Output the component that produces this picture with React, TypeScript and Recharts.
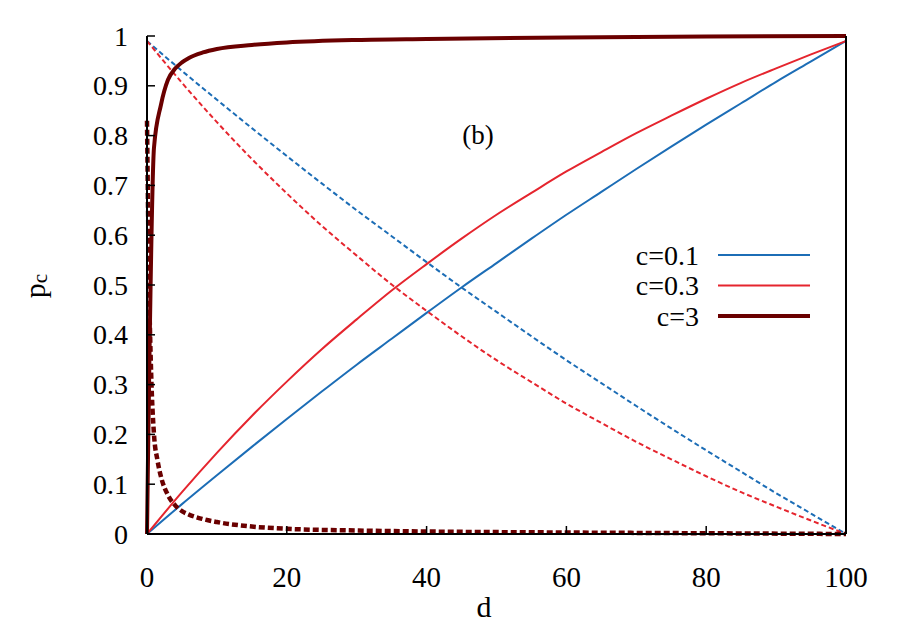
import { LineChart, Line, XAxis, YAxis, Customized } from 'recharts';

// d grid for the c=0.1 and c=0.3 curves
const dGrid = [0, 5, 10, 15, 20, 25, 30, 35, 40, 45, 50, 55, 60, 65, 70, 75, 80, 85, 90, 95, 100];
const c01Rise = [0, 0.06, 0.118, 0.175, 0.231, 0.286, 0.34, 0.392, 0.444, 0.495, 0.544, 0.593, 0.641, 0.687, 0.733, 0.778, 0.822, 0.865, 0.908, 0.949, 0.99];
const c01Fall = [0.99, 0.93, 0.872, 0.815, 0.759, 0.704, 0.65, 0.598, 0.546, 0.495, 0.446, 0.397, 0.349, 0.303, 0.257, 0.212, 0.168, 0.125, 0.082, 0.041, 0];
const c03Rise = [0, 0.084, 0.163, 0.237, 0.306, 0.371, 0.431, 0.489, 0.542, 0.593, 0.641, 0.685, 0.728, 0.767, 0.805, 0.84, 0.874, 0.906, 0.935, 0.963, 0.99];
const c03Fall = [0.99, 0.906, 0.827, 0.753, 0.684, 0.619, 0.559, 0.501, 0.448, 0.397, 0.349, 0.305, 0.262, 0.223, 0.185, 0.15, 0.116, 0.084, 0.055, 0.027, 0];

// c=3 needs a finer grid near d=0
const c3RiseD = [0, 1, 2, 3, 4, 5, 6, 8, 10, 15, 20, 30, 40, 60, 80, 100];
const c3Rise = [0, 0.776, 0.862, 0.912, 0.934, 0.947, 0.956, 0.967, 0.974, 0.982, 0.987, 0.992, 0.994, 0.997, 0.999, 1.0];
const c3FallD = [0, 0.3, 0.6, 1, 1.5, 2, 3, 4, 5, 6, 8, 10, 15, 20, 30, 40, 60, 80, 100];
const c3Fall = [0.83, 0.5, 0.32, 0.2, 0.148, 0.115, 0.078, 0.058, 0.046, 0.039, 0.03, 0.024, 0.015, 0.0105, 0.007, 0.005, 0.003, 0.0015, 0];

const xTicks = [0, 20, 40, 60, 80, 100];
const yTicks = [0, 0.1, 0.2, 0.3, 0.4, 0.5, 0.6, 0.7, 0.8, 0.9, 1];
const seriesNames = ['c=0.1', 'c=0.3', 'c=3'];

const BLUE = '#1c6db6';
const RED = '#e5252e';
const DARK = '#6a0000';
const FONT = '"Liberation Serif", "DejaVu Serif", serif';

const toPts = (xs: number[], ys: number[]) => xs.map((d, i) => ({ d, p: ys[i] }));

const legendRows = [
  { name: seriesNames[0], color: BLUE, width: 2 },
  { name: seriesNames[1], color: RED, width: 2 },
  { name: seriesNames[2], color: DARK, width: 4 },
];

const fmtY = (v: number) => (v === 0 || v === 1 ? String(v) : v.toFixed(1));

const BottomTick = ({ x, y, payload }: any) => (
  <g>
    <line x1={x} y1={y} x2={x} y2={y - 8} stroke="#000" strokeWidth={1.5} />
    <text x={x} y={y + 43} textAnchor="middle" dominantBaseline="central" fontFamily={FONT} fontSize={29}>
      {payload.value}
    </text>
  </g>
);

const TopTick = ({ x, y }: any) => (
  <line x1={x} y1={y} x2={x} y2={y + 8} stroke="#000" strokeWidth={1.5} />
);

const LeftTick = ({ x, y, payload }: any) => (
  <g>
    <line x1={x} y1={y} x2={x + 8} y2={y} stroke="#000" strokeWidth={1.5} />
    <text x={x - 19} y={y} textAnchor="end" dominantBaseline="central" fontFamily={FONT} fontSize={28}>
      {fmtY(payload.value)}
    </text>
  </g>
);

const RightTick = ({ x, y }: any) => (
  <line x1={x} y1={y} x2={x - 8} y2={y} stroke="#000" strokeWidth={1.5} />
);

const Annotations = () => (
  <g fontFamily={FONT}>
    <text x={478} y={135} textAnchor="middle" dominantBaseline="central" fontSize={27}>(b)</text>
    <text x={484} y={606} textAnchor="middle" dominantBaseline="central" fontSize={30}>d</text>
    <text transform="translate(34,286) rotate(-90)" textAnchor="middle" dominantBaseline="central" fontSize={30}>
      p<tspan fontSize={21} dy={6}>c</tspan>
    </text>
    {legendRows.map((r, i) => (
      <g key={r.name}>
        <text x={699} y={255 + i * 30.5} textAnchor="end" dominantBaseline="central" fontSize={28}>{r.name}</text>
        <line x1={718} y1={255 + i * 30.5} x2={810} y2={255 + i * 30.5} stroke={r.color} strokeWidth={r.width} />
      </g>
    ))}
  </g>
);

export default function App() {
  return (
    <div style={{ position: 'absolute', left: 0, top: 0, background: '#fff' }}>
      <LineChart width={900} height={630} margin={{ top: 36, right: 0, bottom: 0, left: 0 }}>
        <XAxis
          xAxisId="b"
          dataKey="d"
          type="number"
          domain={[0, 100]}
          ticks={xTicks}
          orientation="bottom"
          height={96}
          tickSize={0}
          tickMargin={0}
          tick={<BottomTick />}
          axisLine={{ stroke: '#000', strokeWidth: 2 }}
          allowDuplicatedCategory={false}
        />
        <XAxis
          xAxisId="t"
          dataKey="d"
          type="number"
          domain={[0, 100]}
          ticks={xTicks}
          orientation="top"
          height={0}
          tickSize={0}
          tickMargin={0}
          tick={<TopTick />}
          axisLine={{ stroke: '#000', strokeWidth: 2 }}
          allowDuplicatedCategory={false}
        />
        <YAxis
          yAxisId="l"
          type="number"
          domain={[0, 1]}
          ticks={yTicks}
          width={147}
          tickSize={0}
          tickMargin={0}
          tick={<LeftTick />}
          axisLine={{ stroke: '#000', strokeWidth: 2 }}
        />
        <YAxis
          yAxisId="r"
          orientation="right"
          type="number"
          domain={[0, 1]}
          ticks={yTicks}
          width={54}
          tickSize={0}
          tickMargin={0}
          tick={<RightTick />}
          axisLine={{ stroke: '#000', strokeWidth: 2 }}
        />
        <Line xAxisId="b" yAxisId="l" data={toPts(dGrid, c01Rise)} dataKey="p" type="monotone" stroke={BLUE} strokeWidth={2} dot={false} isAnimationActive={false} />
        <Line xAxisId="b" yAxisId="l" data={toPts(dGrid, c01Fall)} dataKey="p" type="monotone" stroke={BLUE} strokeWidth={2} strokeDasharray="5 3" dot={false} isAnimationActive={false} />
        <Line xAxisId="b" yAxisId="l" data={toPts(dGrid, c03Rise)} dataKey="p" type="monotone" stroke={RED} strokeWidth={2} dot={false} isAnimationActive={false} />
        <Line xAxisId="b" yAxisId="l" data={toPts(dGrid, c03Fall)} dataKey="p" type="monotone" stroke={RED} strokeWidth={2} strokeDasharray="5 3" dot={false} isAnimationActive={false} />
        <Line xAxisId="b" yAxisId="l" data={toPts(c3RiseD, c3Rise)} dataKey="p" type="monotone" stroke={DARK} strokeWidth={4} dot={false} isAnimationActive={false} />
        <Line xAxisId="b" yAxisId="l" data={toPts(c3FallD, c3Fall)} dataKey="p" type="monotone" stroke={DARK} strokeWidth={4.5} strokeDasharray="6 3" dot={false} isAnimationActive={false} />
        <Customized component={<Annotations />} />
      </LineChart>
    </div>
  );
}
